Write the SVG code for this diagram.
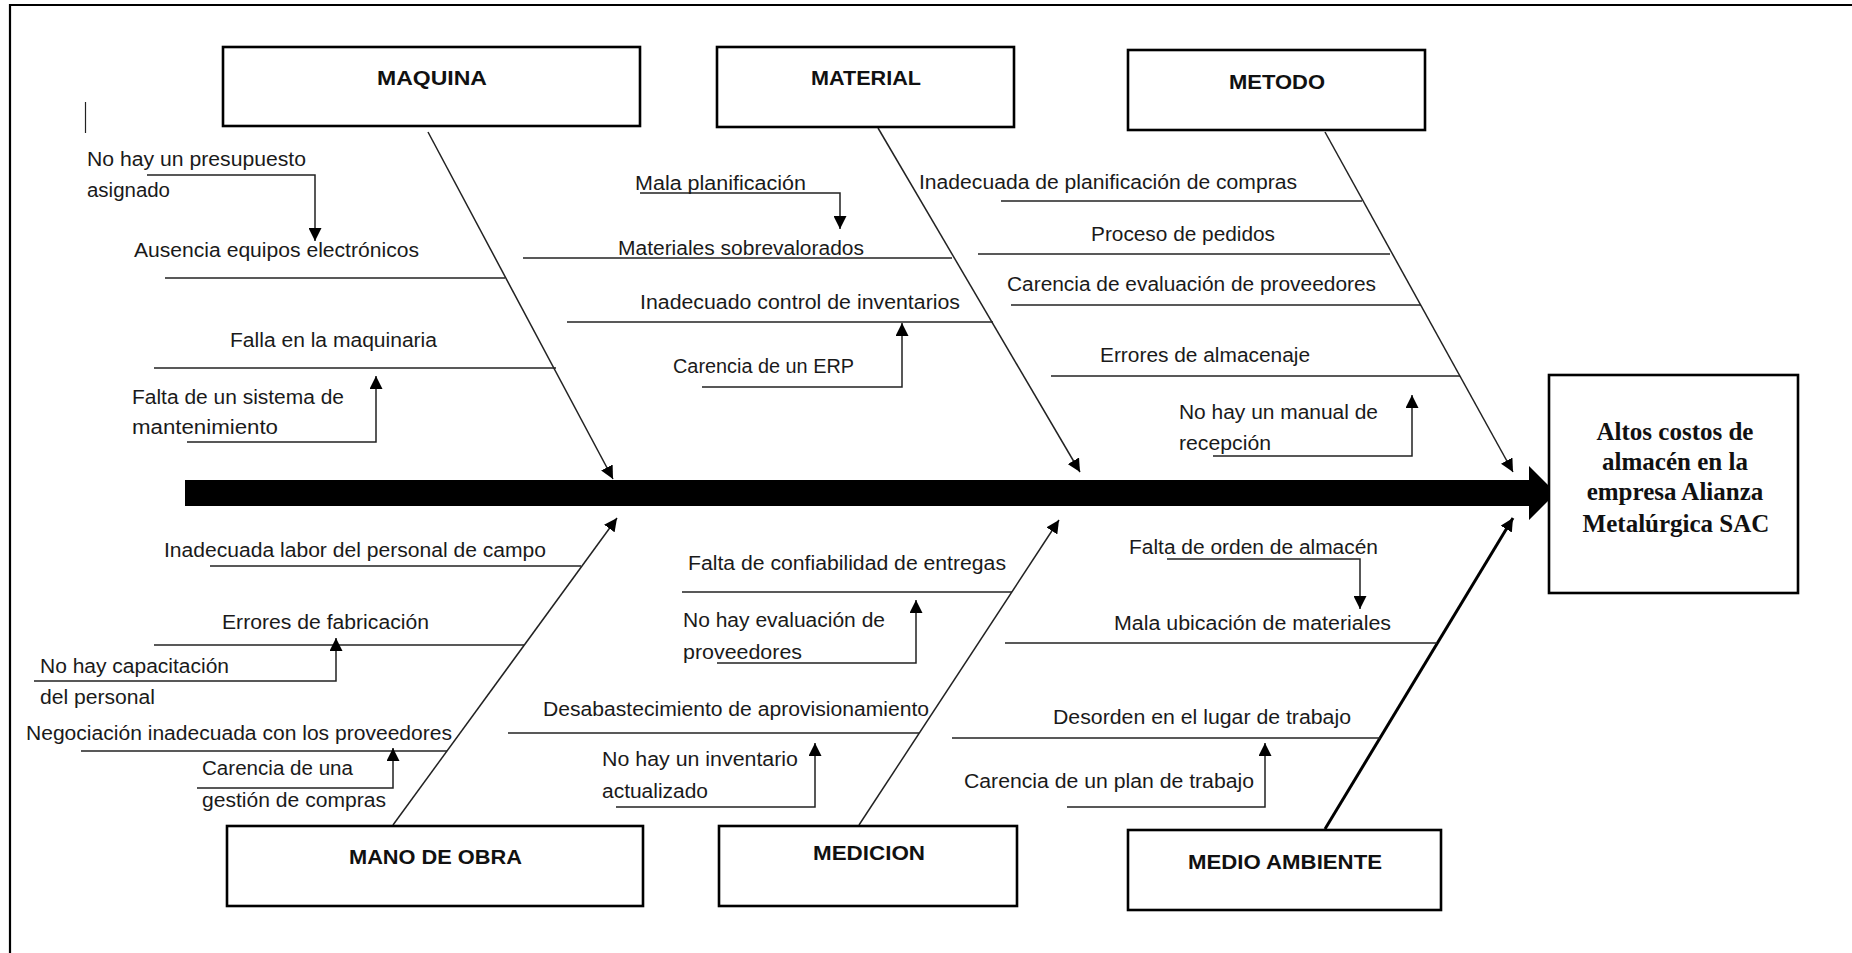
<svg xmlns="http://www.w3.org/2000/svg" width="1852" height="953" viewBox="0 0 1852 953">
<style>
.bg{fill:#fff}
.frame{stroke:#000;stroke-width:2.2;fill:none}
.box{fill:#fff;stroke:#000;stroke-width:2.6}
.cat{font-family:"Liberation Sans",Arial,sans-serif;font-weight:bold;font-size:21px;fill:#111}
.lbl{font-family:"Liberation Sans",Arial,sans-serif;font-size:20px;fill:#1a1a1a}
.eff{font-family:"Liberation Serif","Times New Roman",serif;font-weight:bold;font-size:25px;fill:#111;text-anchor:middle}
.ln{stroke:#222;stroke-width:1.5;fill:none}
.bone{stroke:#222;stroke-width:1.5;fill:none;marker-end:url(#ah)}
.bone2{stroke:#000;stroke-width:3;fill:none;marker-end:url(#ah)}
.sub{stroke:#222;stroke-width:1.5;fill:none;marker-end:url(#ah)}
</style>
<defs>
<marker id="ah" markerUnits="userSpaceOnUse" markerWidth="14" markerHeight="13" refX="13" refY="6.5" orient="auto">
<path d="M0,0 L13,6.5 L0,13 z" fill="#000"/>
</marker>
</defs>
<rect class="bg" x="0" y="0" width="1852" height="953"/>
<path class="frame" d="M10,953 L10,5 L1852,5"/>
<line x1="85.5" y1="102" x2="85.5" y2="133" stroke="#222" stroke-width="1.2"/>

<g id="connectors">
<polygon id="spine" points="185,480 1529,480 1529,466 1556,493 1529,520 1529,506 185,506" fill="#000"/>
<line class="bone" x1="428" y1="132" x2="613" y2="479"/>
<line class="bone" x1="878" y1="128" x2="1080" y2="472"/>
<line class="bone" x1="1325" y1="132" x2="1513" y2="472"/>
<line class="bone" x1="393" y1="825" x2="617" y2="518"/>
<line class="bone" x1="859" y1="825" x2="1059" y2="520"/>
<line class="bone2" x1="1325" y1="829" x2="1513" y2="518"/>
<line class="ln" x1="165" y1="278" x2="505" y2="278"/>
<line class="ln" x1="154" y1="368" x2="556" y2="368"/>
<line class="ln" x1="523" y1="258" x2="952" y2="258"/>
<line class="ln" x1="567" y1="322" x2="993" y2="322"/>
<line class="ln" x1="1001" y1="201" x2="1362" y2="201"/>
<line class="ln" x1="978" y1="254" x2="1390" y2="254"/>
<line class="ln" x1="1011" y1="305" x2="1421" y2="305"/>
<line class="ln" x1="1051" y1="376" x2="1460" y2="376"/>
<line class="ln" x1="210" y1="566" x2="581" y2="566"/>
<line class="ln" x1="154" y1="645" x2="524" y2="645"/>
<line class="ln" x1="81" y1="751" x2="447" y2="751"/>
<line class="ln" x1="682" y1="592" x2="1012" y2="592"/>
<line class="ln" x1="508" y1="733" x2="919" y2="733"/>
<line class="ln" x1="1005" y1="643" x2="1437" y2="643"/>
<line class="ln" x1="952" y1="738" x2="1380" y2="738"/>
<polyline class="sub" points="147,175 315,175 315,241"/>
<polyline class="sub" points="187,442 376,442 376,376"/>
<polyline class="sub" points="640,193 840,193 840,229"/>
<polyline class="sub" points="702,387 902,387 902,323"/>
<polyline class="sub" points="1213,456 1412,456 1412,395"/>
<polyline class="sub" points="34,681 336,681 336,638"/>
<polyline class="sub" points="197,788 393,788 393,748"/>
<polyline class="sub" points="717,663 916,663 916,600"/>
<polyline class="sub" points="616,807 815,807 815,743"/>
<polyline class="sub" points="1167,559 1360,559 1360,609"/>
<polyline class="sub" points="1067,807 1265,807 1265,743"/>
</g>

<g id="maquina"><rect class="box" x="223" y="47" width="417" height="79"/><text class="cat" x="377" y="85" textLength="110" lengthAdjust="spacingAndGlyphs">MAQUINA</text></g>
<g id="material"><rect class="box" x="717" y="47" width="297" height="80"/><text class="cat" x="811" y="85" textLength="110" lengthAdjust="spacingAndGlyphs">MATERIAL</text></g>
<g id="metodo"><rect class="box" x="1128" y="50" width="297" height="80"/><text class="cat" x="1229" y="89" textLength="96" lengthAdjust="spacingAndGlyphs">METODO</text></g>
<g id="mano-de-obra"><rect class="box" x="227" y="826" width="416" height="80"/><text class="cat" x="349" y="864" textLength="173" lengthAdjust="spacingAndGlyphs">MANO DE OBRA</text></g>
<g id="medicion"><rect class="box" x="719" y="826" width="298" height="80"/><text class="cat" x="813" y="860" textLength="112" lengthAdjust="spacingAndGlyphs">MEDICION</text></g>
<g id="medio-ambiente"><rect class="box" x="1128" y="830" width="313" height="80"/><text class="cat" x="1188" y="869" textLength="194" lengthAdjust="spacingAndGlyphs">MEDIO AMBIENTE</text></g>
<g id="efecto"><rect class="box" x="1549" y="375" width="249" height="218"/>
<text class="eff" x="1675" y="440">Altos costos de</text>
<text class="eff" x="1675" y="470">almacén en la</text>
<text class="eff" x="1675" y="500">empresa Alianza</text>
<text class="eff" x="1676" y="532">Metalúrgica SAC</text></g>

<g id="causa-presupuesto"><text class="lbl" x="87" y="166" textLength="219" lengthAdjust="spacingAndGlyphs">No hay un presupuesto</text><text class="lbl" x="87" y="197" textLength="83" lengthAdjust="spacingAndGlyphs">asignado</text></g>
<g id="causa-equipos"><text class="lbl" x="134" y="257" textLength="285" lengthAdjust="spacingAndGlyphs">Ausencia equipos electrónicos</text></g>
<g id="causa-falla"><text class="lbl" x="230" y="347" textLength="207" lengthAdjust="spacingAndGlyphs">Falla en la maquinaria</text></g>
<g id="causa-mantenimiento"><text class="lbl" x="132" y="404" textLength="212" lengthAdjust="spacingAndGlyphs">Falta de un sistema de</text><text class="lbl" x="132" y="434" textLength="146" lengthAdjust="spacingAndGlyphs">mantenimiento</text></g>

<g id="causa-planificacion"><text class="lbl" x="635" y="190" textLength="171" lengthAdjust="spacingAndGlyphs">Mala planificación</text></g>
<g id="causa-sobrevalorados"><text class="lbl" x="618" y="255" textLength="246" lengthAdjust="spacingAndGlyphs">Materiales sobrevalorados</text></g>
<g id="causa-inventarios"><text class="lbl" x="640" y="309" textLength="320" lengthAdjust="spacingAndGlyphs">Inadecuado  control  de  inventarios</text></g>
<g id="causa-erp"><text class="lbl" x="673" y="373" textLength="181" lengthAdjust="spacingAndGlyphs">Carencia de un ERP</text></g>

<g id="causa-compras"><text class="lbl" x="919" y="189" textLength="378" lengthAdjust="spacingAndGlyphs">Inadecuada  de planificación de compras</text></g>
<g id="causa-pedidos"><text class="lbl" x="1091" y="241" textLength="184" lengthAdjust="spacingAndGlyphs">Proceso de pedidos</text></g>
<g id="causa-evaluacion"><text class="lbl" x="1007" y="291" textLength="369" lengthAdjust="spacingAndGlyphs">Carencia de evaluación de proveedores</text></g>
<g id="causa-almacenaje"><text class="lbl" x="1100" y="362" textLength="210" lengthAdjust="spacingAndGlyphs">Errores de almacenaje</text></g>
<g id="causa-manual"><text class="lbl" x="1179" y="419" textLength="199" lengthAdjust="spacingAndGlyphs">No hay un manual de</text><text class="lbl" x="1179" y="450" textLength="92" lengthAdjust="spacingAndGlyphs">recepción</text></g>

<g id="causa-labor"><text class="lbl" x="164" y="557" textLength="382" lengthAdjust="spacingAndGlyphs">Inadecuada  labor del personal  de campo</text></g>
<g id="causa-fabricacion"><text class="lbl" x="222" y="629" textLength="207" lengthAdjust="spacingAndGlyphs">Errores de fabricación</text></g>
<g id="causa-capacitacion"><text class="lbl" x="40" y="673" textLength="189" lengthAdjust="spacingAndGlyphs">No hay capacitación</text><text class="lbl" x="40" y="704" textLength="115" lengthAdjust="spacingAndGlyphs">del personal</text></g>
<g id="causa-negociacion"><text class="lbl" x="26" y="740" textLength="426" lengthAdjust="spacingAndGlyphs">Negociación inadecuada con los proveedores</text></g>
<g id="causa-gestion"><text class="lbl" x="202" y="775" textLength="151" lengthAdjust="spacingAndGlyphs">Carencia de una</text><text class="lbl" x="202" y="807" textLength="184" lengthAdjust="spacingAndGlyphs">gestión de compras</text></g>

<g id="causa-entregas"><text class="lbl" x="688" y="570" textLength="318" lengthAdjust="spacingAndGlyphs">Falta de confiabilidad  de entregas</text></g>
<g id="causa-eval-prov"><text class="lbl" x="683" y="627" textLength="202" lengthAdjust="spacingAndGlyphs">No hay evaluación de</text><text class="lbl" x="683" y="659" textLength="119" lengthAdjust="spacingAndGlyphs">proveedores</text></g>
<g id="causa-desabastecimiento"><text class="lbl" x="543" y="716" textLength="386" lengthAdjust="spacingAndGlyphs">Desabastecimiento  de  aprovisionamiento</text></g>
<g id="causa-inventario"><text class="lbl" x="602" y="766" textLength="196" lengthAdjust="spacingAndGlyphs">No hay un inventario</text><text class="lbl" x="602" y="798" textLength="106" lengthAdjust="spacingAndGlyphs">actualizado</text></g>

<g id="causa-orden"><text class="lbl" x="1129" y="554" textLength="249" lengthAdjust="spacingAndGlyphs">Falta de orden de almacén</text></g>
<g id="causa-ubicacion"><text class="lbl" x="1114" y="630" textLength="277" lengthAdjust="spacingAndGlyphs">Mala ubicación  de materiales</text></g>
<g id="causa-desorden"><text class="lbl" x="1053" y="724" textLength="298" lengthAdjust="spacingAndGlyphs">Desorden en el lugar de trabajo</text></g>
<g id="causa-plan"><text class="lbl" x="964" y="788" textLength="290" lengthAdjust="spacingAndGlyphs">Carencia de un plan de trabajo</text></g>
</svg>
